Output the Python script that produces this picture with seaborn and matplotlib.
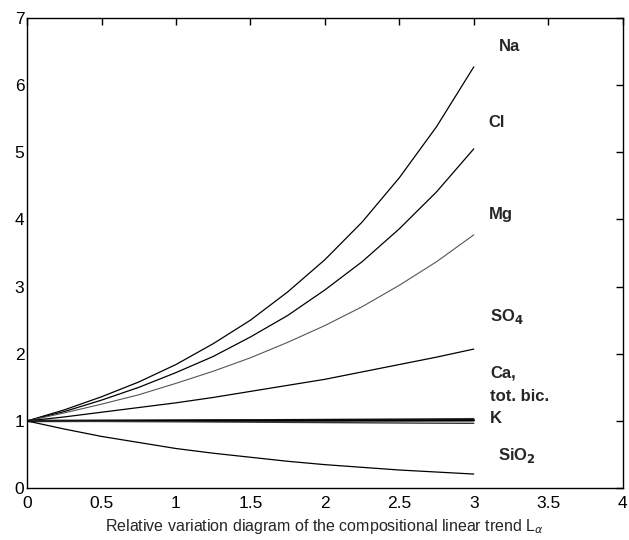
import numpy as np
import pandas as pd
import matplotlib
matplotlib.use("Agg")
import matplotlib.pyplot as plt
import seaborn as sns

# relative variation along the linear trend
t = [0, 0.25, 0.5, 0.75, 1.0, 1.25, 1.5, 1.75, 2.0, 2.25, 2.5, 2.75, 3.0]
na = [1, 1.165, 1.36, 1.58, 1.84, 2.15, 2.50, 2.92, 3.40, 3.96, 4.62, 5.38, 6.27]
cl = [1, 1.14, 1.31, 1.50, 1.72, 1.96, 2.25, 2.57, 2.95, 3.37, 3.86, 4.41, 5.05]
mg = [1, 1.12, 1.25, 1.39, 1.56, 1.74, 1.94, 2.17, 2.42, 2.70, 3.02, 3.37, 3.77]
so4 = [1, 1.06, 1.13, 1.20, 1.27, 1.35, 1.44, 1.53, 1.62, 1.73, 1.84, 1.95, 2.07]
ca = [1, 1.003, 1.006, 1.009, 1.012, 1.015, 1.017, 1.020, 1.023, 1.026, 1.029, 1.032, 1.035]
bic = [1, 1.001, 1.002, 1.002, 1.003, 1.004, 1.005, 1.006, 1.007, 1.008, 1.008, 1.009, 1.01]
k = [1, 0.997, 0.994, 0.991, 0.988, 0.985, 0.982, 0.979, 0.976, 0.973, 0.970, 0.967, 0.965]
sio2 = [1, 0.88, 0.77, 0.68, 0.59, 0.52, 0.46, 0.40, 0.35, 0.31, 0.27, 0.24, 0.21]

series = {"Na": na, "Cl": cl, "Mg": mg, "SO4": so4, "Ca": ca, "bic": bic, "K": k, "SiO2": sio2}
styles = {"Na": ("black", 0.9), "Cl": ("black", 0.9), "Mg": ("#555555", 0.8),
          "SO4": ("black", 0.9), "Ca": ("#333333", 1.0), "bic": ("black", 1.8),
          "K": ("#333333", 1.0), "SiO2": ("black", 0.9)}

sns.set_style("white")
plt.rcParams['font.family'] = ['Liberation Sans', 'DejaVu Sans']

fig = plt.figure(figsize=(6.29, 5.4), dpi=100)
ax = fig.add_axes([0.043, 0.096, 0.947, 0.871])

for name, vals in series.items():
    df = pd.DataFrame({"t": t, "v": vals})
    c, lw = styles[name]
    sns.lineplot(data=df, x="t", y="v", ax=ax, color=c, linewidth=lw)

ax.set_xlim(0, 4)
ax.set_ylim(0, 7)
ax.set_xticks(np.arange(0, 4.01, 0.5))
ax.set_xticklabels(["0", "0.5", "1", "1.5", "2", "2.5", "3", "3.5", "4"])
ax.set_yticks(range(0, 8))
ax.tick_params(direction="in", length=5, width=1, top=True, right=True,
               labelsize=12.5, colors="black", pad=2)
ax.tick_params(axis="x", pad=6)
for s in ax.spines.values():
    s.set_color("black")
    s.set_linewidth(1)
ax.set_xlabel(r"Relative variation diagram of the compositional linear trend L$_\alpha$",
              fontsize=11.5, labelpad=4)
ax.set_ylabel("")

lab = dict(fontsize=12, fontweight="bold", va="center", ha="left")
ax.text(3.17, 6.57, "Na", **lab)
ax.text(3.10, 5.44, "Cl", **lab)
ax.text(3.10, 4.08, "Mg", **lab)
ax.text(3.11, 2.56, r"SO$_\mathbf{4}$", **lab)
ax.text(3.11, 1.71, "Ca,", **lab)
ax.text(3.11, 1.37, "tot. bic.", **lab)
ax.text(3.11, 1.04, "K", **lab)
ax.text(3.16, 0.49, r"SiO$_\mathbf{2}$", **lab)

fig.savefig("out.png", dpi=100)
